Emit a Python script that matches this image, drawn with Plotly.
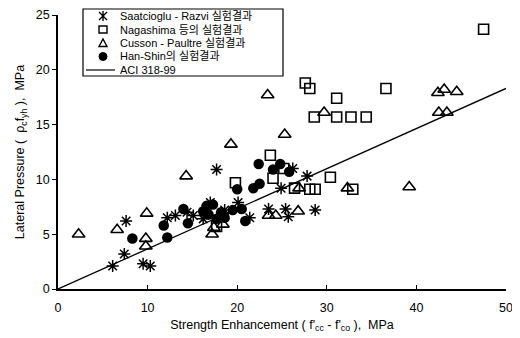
import plotly.graph_objects as go

# Saatcioglu - Razvi
sr_x = [6.1, 7.4, 7.6, 9.5, 10.3, 12.2, 13.1, 15.1, 16.2, 17.0, 17.7, 18.6, 20.1, 21.4, 23.5, 25.4, 25.7, 28.7, 24.9, 26.2, 27.8, 16.5, 14.4]
sr_y = [2.1, 3.2, 6.2, 2.3, 2.1, 6.5, 6.7, 6.7, 6.4, 7.9, 10.9, 7.2, 7.9, 6.5, 7.3, 7.3, 6.6, 7.2, 9.2, 11.0, 10.3, 7.3, 7.0]

# Nagashima
ng_x = [47.5, 27.6, 28.1, 36.6, 31.1, 28.6, 31.1, 32.7, 34.4, 30.4, 28.1, 28.7, 32.9, 26.4, 23.7, 19.8, 24.0, 25.2, 17.7]
ng_y = [23.7, 18.8, 18.3, 18.3, 17.4, 15.7, 15.7, 15.7, 15.7, 10.2, 9.1, 9.1, 9.1, 9.2, 12.2, 9.7, 10.1, 11.0, 5.7]

# Cusson - Paultre
cp_x = [2.3, 6.6, 9.9, 9.8, 9.8, 14.3, 17.2, 18.4, 19.3, 23.4, 25.3, 29.7, 26.9, 32.3, 23.5, 24.3, 26.8, 42.4, 43.1, 44.5, 42.5, 43.4, 39.2, 17.4]
cp_y = [5.0, 5.4, 6.9, 4.6, 3.9, 10.3, 5.0, 5.9, 13.2, 17.7, 14.1, 16.1, 9.2, 9.2, 6.7, 6.7, 7.1, 17.9, 18.2, 18.0, 16.1, 16.1, 9.3, 5.6]

# Han-Shin
hs_x = [8.3, 12.2, 11.8, 14.0, 14.5, 16.2, 16.6, 17.3, 17.7, 18.2, 19.5, 20.5, 20.9, 20.0, 21.8, 22.5, 22.4, 24.0, 24.8, 25.8, 16.8, 18.6]
hs_y = [4.6, 4.7, 5.8, 7.3, 6.0, 7.1, 7.6, 7.7, 6.4, 7.0, 7.2, 7.3, 6.2, 9.1, 9.2, 9.6, 11.4, 10.9, 11.4, 10.7, 6.8, 6.5]

# ACI 318-99
aci_x = [0, 50]
aci_y = [0, 18.3]

names = ["Saatcioglu - Razvi 실험결과", "Nagashima 등의 실험결과", "Cusson - Paultre 실험결과", "Han-Shin의 실험결과", "ACI 318-99"]
x_ticks = [0, 10, 20, 30, 40, 50]
y_ticks = [0, 5, 10, 15, 20, 25]

FONT = "Liberation Sans, Arial, Noto Sans CJK KR, sans-serif"
OFF = 8  # page body margin offset
W, H = 520 - OFF, 338 - OFF
ML, MR, MT, MB = 58 - OFF, 14, 15 - OFF, 49
PW, PH = W - ML - MR, H - MT - MB


def px_x(p):
    return (p - OFF - ML) / PW


def px_y(p):
    return (H - MB - (p - OFF)) / PH


fig = go.Figure()
fig.add_trace(go.Scatter(x=sr_x, y=sr_y, mode="markers", name=names[0], showlegend=False,
                         marker=dict(symbol="asterisk-open", size=10, color="black", line=dict(color="black", width=1.5))))
fig.add_trace(go.Scatter(x=ng_x, y=ng_y, mode="markers", name=names[1], showlegend=False,
                         marker=dict(symbol="square-open", size=10, color="black", line=dict(color="black", width=1.6))))
fig.add_trace(go.Scatter(x=cp_x, y=cp_y, mode="markers", name=names[2], showlegend=False,
                         marker=dict(symbol="triangle-up-open", size=11, color="black", line=dict(color="black", width=1.6))))
fig.add_trace(go.Scatter(x=hs_x, y=hs_y, mode="markers", name=names[3], showlegend=False,
                         marker=dict(symbol="circle", size=10.5, color="black")))
fig.add_trace(go.Scatter(x=aci_x, y=aci_y, mode="lines", name=names[4], showlegend=False,
                         line=dict(color="black", width=1.3)))

# ---- legend box (drawn as layout decorations, compact rows like the reference) ----
shapes = []
annotations = []
box_l, box_r, box_t, box_b = 83, 283, 9, 76
shapes.append(dict(type="rect", xref="paper", yref="paper",
                   x0=px_x(box_l), x1=px_x(box_r), y0=px_y(box_b), y1=px_y(box_t),
                   line=dict(color="black", width=1.2), fillcolor="white", layer="above"))
row_y = [16, 29.5, 43, 56.5, 70]
sx = 103
s = 4
lw = dict(color="black", width=1.4)
# asterisk
cy = row_y[0]
path = (f"M {px_x(sx - s)},{px_y(cy - s)} L {px_x(sx + s)},{px_y(cy + s)} "
        f"M {px_x(sx - s)},{px_y(cy + s)} L {px_x(sx + s)},{px_y(cy - s)} "
        f"M {px_x(sx)},{px_y(cy - s - 1)} L {px_x(sx)},{px_y(cy + s + 1)}")
shapes.append(dict(type="path", xref="paper", yref="paper", path=path, line=lw, layer="above"))
# square
cy = row_y[1]
shapes.append(dict(type="rect", xref="paper", yref="paper", x0=px_x(sx - 4), x1=px_x(sx + 4),
                   y0=px_y(cy + 3.5), y1=px_y(cy - 3.5), line=lw, layer="above"))
# triangle
cy = row_y[2]
path = f"M {px_x(sx - 4)},{px_y(cy + 3.5)} L {px_x(sx + 4)},{px_y(cy + 3.5)} L {px_x(sx)},{px_y(cy - 4)} Z"
shapes.append(dict(type="path", xref="paper", yref="paper", path=path, line=lw, layer="above"))
# filled circle
cy = row_y[3]
shapes.append(dict(type="circle", xref="paper", yref="paper", x0=px_x(sx - 4), x1=px_x(sx + 4),
                   y0=px_y(cy + 4), y1=px_y(cy - 4), line=dict(color="black", width=1),
                   fillcolor="black", layer="above"))
# line
cy = row_y[4]
shapes.append(dict(type="line", xref="paper", yref="paper", x0=px_x(86), x1=px_x(115),
                   y0=px_y(cy), y1=px_y(cy), line=dict(color="black", width=1.2), layer="above"))
for name, ry in zip(names, row_y):
    annotations.append(dict(xref="paper", yref="paper", x=px_x(118), y=px_y(ry), text=name,
                            showarrow=False, xanchor="left", yanchor="middle",
                            font=dict(family=FONT, size=11, color="black")))

fig.update_layout(
    width=W, height=H,
    margin=dict(l=ML, r=MR, t=MT, b=MB),
    paper_bgcolor="white", plot_bgcolor="white",
    font=dict(family=FONT, size=12, color="black"),
    showlegend=False,
    shapes=shapes,
    annotations=annotations,
)
fig.update_xaxes(range=[0, 50], tickvals=x_ticks, showgrid=False, zeroline=False, automargin=False,
                 showline=True, linecolor="black", linewidth=1.5, ticks="inside", ticklen=4,
                 tickcolor="black", tickfont=dict(size=12.5), ticklabelstandoff=6,
                 ticklabeloverflow="allow",
                 title=dict(text="Strength Enhancement ( f'<sub>cc</sub> - f'<sub>co</sub> ),  MPa",
                            font=dict(size=12.5), standoff=6))
fig.update_yaxes(range=[0, 25], tickvals=y_ticks, showgrid=False, zeroline=False, automargin=False,
                 showline=True, linecolor="black", linewidth=1.5, ticks="outside", ticklen=4,
                 tickcolor="black", tickfont=dict(size=12.5), ticklabeloverflow="allow",
                 title=dict(text="Lateral Pressure (  ρ<sub>c</sub>f<sub>yh</sub> ),  MPa",
                            font=dict(size=12.5), standoff=8))

fig.write_html("out.html")
